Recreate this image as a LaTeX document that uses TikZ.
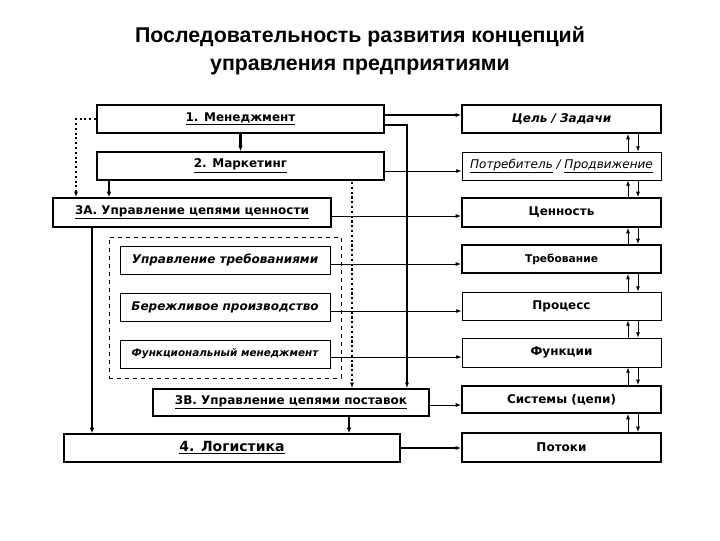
\documentclass[tikz,border=0pt]{standalone}
\usepackage{fontspec}
\setmainfont{DejaVu Sans}
\newfontfamily\ttlfont{Liberation Sans}
\usetikzlibrary{arrows.meta,calc}
\begin{document}
\begin{tikzpicture}[x=0.75pt,y=-0.75pt,
 bx/.style={draw,line width=1.4pt,inner sep=0pt,font=\fontsize{9}{11}\selectfont\bfseries},
 lb/.style={draw,line width=0.6pt,inner sep=0pt,font=\fontsize{9}{11}\selectfont\bfseries\itshape},
 ar/.style={-{Latex[length=4pt,width=3pt]},line width=0.6pt},
 tk/.style={-{Latex[length=4pt,width=3.5pt]},line width=2pt},
 dt/.style={-{Latex[length=4pt,width=3pt]},line width=1.6pt,dotted}]
\useasboundingbox (0,0) rectangle (720,540);
\node[font=\ttlfont\fontsize{16}{21}\selectfont\bfseries,align=center] (title) at (360,51) {Последовательность развития концепций\\управления предприятиями};
\newcommand\bxx[6]{\node[#1,minimum width={(#4-#3)*0.75pt},minimum height={(#6-#5)*0.75pt}] (#2) at ({(#3+#4)/2},{(#5+#6)/2})}
\bxx{bx}{m1}{97}{384}{105}{133} {\underline{1. Менеджмент}};
\bxx{bx}{m2}{97}{384}{152}{180} {\underline{2. Маркетинг}};
\bxx{bx}{m3a}{53}{331}{198}{227} {\underline{3А. Управление цепями ценности}};
\node[draw,dashed,line width=0.5pt,minimum width={232*0.75pt},minimum height={141*0.75pt},inner sep=0pt] (grp) at (225,307.5) {};
\bxx{lb}{u1}{120}{330}{246}{274} {Управление требованиями};
\bxx{lb}{u2}{120}{330}{293}{321} {Бережливое производство};
\bxx{lb}{u3}{120}{330}{340}{368} {\fontsize{7.8}{9}\selectfont Функциональный менеджмент};
\bxx{bx}{m3b}{153}{429}{389}{416} {\underline{3В. Управление цепями поставок}};
\bxx{bx}{m4}{64}{400}{434}{462} {\fontsize{10.5}{12}\selectfont\underline{4. Логистика}};
\bxx{bx}{r1}{462}{661}{105}{133} {\itshape Цель / Задачи};
\bxx{lb}{r2}{462}{661}{152}{180} {\mdseries\underline{Потребитель} / \underline{Продвижение}};
\bxx{bx}{r3}{462}{661}{198}{227} {Ценность};
\bxx{bx}{r4}{462}{661}{245}{273} {\fontsize{8}{9}\selectfont Требование};
\bxx{lb}{r5}{462}{661}{292}{320} {\upshape Процесс};
\bxx{lb}{r6}{462}{661}{338}{367} {\upshape Функции};
\bxx{bx}{r7}{462}{661}{386}{413} {Системы (цепи)};
\bxx{bx}{r8}{462}{661}{433}{462} {Потоки};
\draw[ar,line width=1.2pt] (m1.east|-0,115) -- (r1.west|-0,115);
\draw[ar] (m2.east|-0,171) -- (r2.west|-0,171);
\draw[ar] (m3a.east|-0,216) -- (r3.west|-0,216);
\draw[ar] (u1.east|-0,264) -- (r4.west|-0,264);
\draw[ar] (u2.east|-0,311) -- (r5.west|-0,311);
\draw[ar] (u3.east|-0,357) -- (r6.west|-0,357);
\draw[ar] (m3b.east|-0,405) -- (r7.west|-0,405);
\draw[ar,line width=1.2pt] (m4.east|-0,448) -- (r8.west|-0,448);
\foreach \a/\b in {r1/r2,r2/r3,r3/r4,r4/r5,r5/r6,r6/r7,r7/r8}{
 \draw[ar] (\b.north-|628,0) -- (\a.south-|628,0);
 \draw[ar] (\a.south-|638,0) -- (\b.north-|638,0);}
\draw[tk] (m1.south) -- (m2.north);
\draw[dt] (m1.west) -- (76,119) -- (m3a.north-|76,0);
\draw[tk] (m2.south-|109,0) -- (m3a.north-|109,0);
\draw[line width=1.2pt,-{Latex[length=4pt,width=3pt]}] (m1.east|-0,125) -- (407,125) -- (m3b.north-|407,0);
\draw[dt] (352,182) -- (m3b.north-|352,0);
\draw[tk] (m3a.south-|92,0) -- (m4.north-|92,0);
\draw[tk] (m3b.south-|349,0) -- (m4.north-|349,0);
\end{tikzpicture}
\end{document}
